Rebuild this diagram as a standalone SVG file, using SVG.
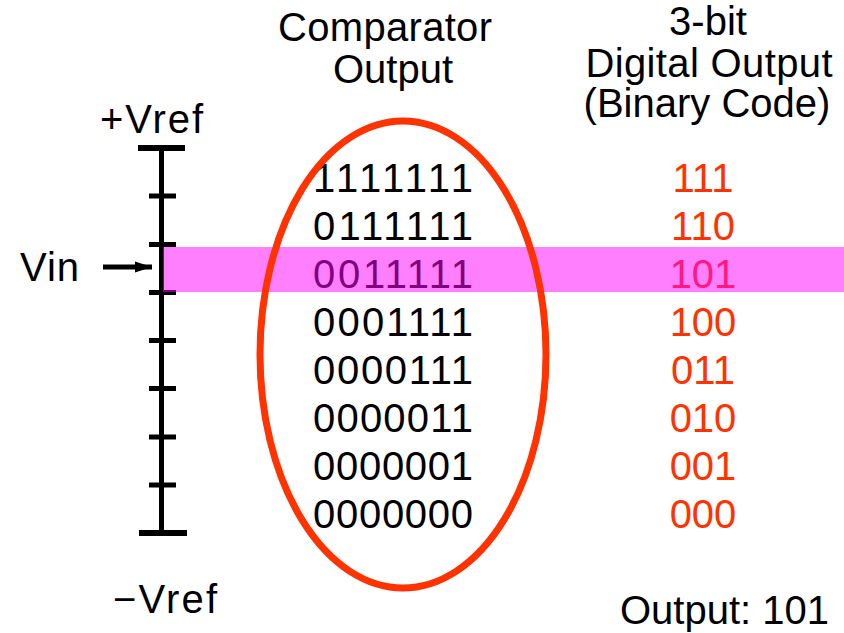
<svg xmlns="http://www.w3.org/2000/svg" width="844" height="633" viewBox="0 0 844 633">
<style>
  text { font-family: "Liberation Sans", Arial, sans-serif; font-size: 40px; fill: #000; }
  .red { fill: #ff3300; }
  .mid { text-anchor: middle; }
  .axis { stroke: #000; stroke-width: 5; fill: none; }
  .cap { stroke: #000; stroke-width: 6; }
</style>
<defs>
  <marker id="arrowhead" markerWidth="18" markerHeight="12" refX="17" refY="6" orient="auto" markerUnits="userSpaceOnUse">
    <polygon points="0,0.5 17,6 0,11.5" fill="#000"/>
  </marker>
</defs>
<rect width="844" height="633" fill="#fff"/>

<g id="header-comparator">
  <text x="278" y="41" textLength="214">Comparator</text>
  <text x="333" y="83">Output</text>
</g>
<g id="header-digital">
  <text class="mid" x="708" y="35">3-bit</text>
  <text class="mid" x="709" y="77" textLength="247">Digital Output</text>
  <text class="mid" x="707" y="117">(Binary Code)</text>
</g>

<g id="label-vref-plus"><text x="100" y="133" textLength="103">+Vref</text></g>
<g id="label-vref-minus"><text x="113" y="613" textLength="104">−Vref</text></g>
<g id="label-vin"><text x="20" y="281" textLength="59">Vin</text></g>

<g id="comparator-codes">
  <text class="mid" x="393" y="192" textLength="160">1111111</text>
  <text class="mid" x="393" y="240" textLength="160">0111111</text>
  <text class="mid" x="393" y="288" textLength="160">0011111</text>
  <text class="mid" x="393" y="336" textLength="160">0001111</text>
  <text class="mid" x="393" y="384" textLength="160">0000111</text>
  <text class="mid" x="393" y="432" textLength="160">0000011</text>
  <text class="mid" x="393" y="480" textLength="160">0000001</text>
  <text class="mid" x="393" y="528" textLength="160">0000000</text>
</g>

<g id="binary-codes">
  <text class="mid red" x="703" y="192">111</text>
  <text class="mid red" x="703" y="240">110</text>
  <text class="mid red" x="703" y="288">101</text>
  <text class="mid red" x="703" y="336">100</text>
  <text class="mid red" x="703" y="384">011</text>
  <text class="mid red" x="703" y="432">010</text>
  <text class="mid red" x="703" y="480">001</text>
  <text class="mid red" x="703" y="528">000</text>
</g>

<g id="voltage-scale">
  <line class="axis" x1="161.5" y1="148" x2="161.5" y2="533"/>
  <line class="cap" x1="138" y1="148" x2="185" y2="148"/>
  <line class="cap" x1="139" y1="533" x2="187" y2="533"/>
  <line class="axis" x1="149" y1="196" x2="176" y2="196"/>
  <line class="axis" x1="149" y1="244.5" x2="176" y2="244.5"/>
  <line class="axis" x1="149" y1="292.5" x2="176" y2="292.5"/>
  <line class="axis" x1="149" y1="340.5" x2="176" y2="340.5"/>
  <line class="axis" x1="149" y1="388.5" x2="176" y2="388.5"/>
  <line class="axis" x1="149" y1="437" x2="176" y2="437"/>
  <line class="axis" x1="149" y1="485" x2="176" y2="485"/>
</g>

<g id="connectors">
  <line x1="103" y1="267" x2="152" y2="267" stroke="#000" stroke-width="5" marker-end="url(#arrowhead)"/>
</g>

<g id="highlight-band">
  <rect x="163" y="247" width="681" height="45" fill="#ff00ff" fill-opacity="0.5"/>
</g>

<g id="comparator-ellipse">
  <ellipse cx="403" cy="354.5" rx="143" ry="233.5" fill="none" stroke="#ff3300" stroke-width="7"/>
</g>

<g id="label-output"><text x="620" y="624">Output: 101</text></g>
</svg>
